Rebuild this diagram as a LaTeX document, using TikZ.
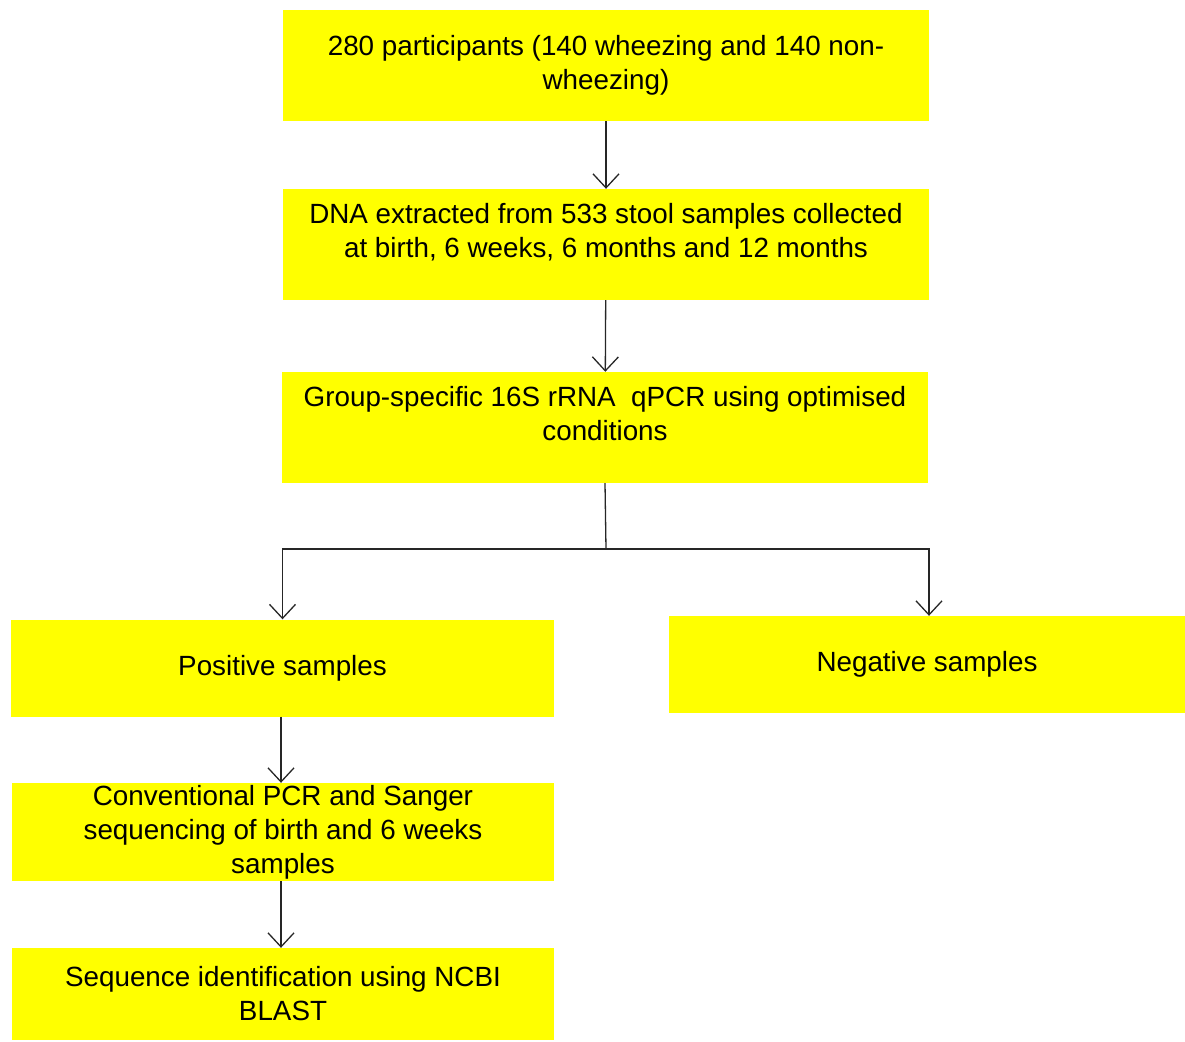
\documentclass[tikz,border=0pt]{standalone}
\usepackage{fontspec}
\setmainfont{Liberation Sans}
\usetikzlibrary{arrows.meta}
\definecolor{boxyellow}{RGB}{255,255,0}

\begin{document}
\begin{tikzpicture}[x=1pt, y=-1pt,
font=\fontsize{27.8}{34}\selectfont,
stage/.style={fill=boxyellow, draw=none, align=center, inner sep=0pt,
    minimum width=646pt, minimum height=111pt},
result/.style={stage, minimum width=543pt, minimum height=97pt},
flow/.style={draw=black!85, line width=1.3pt,
    -{Straight Barb[length=14pt,width=26pt,line width=1.3pt]}}]
\useasboundingbox (0,0) rectangle (1185,1041);
\node[stage] (cohort) at (606,65.5) {280 participants (140 wheezing and 140 non-\\wheezing)};
\node[stage, text depth=29pt] (dna) at (606,244.5) {DNA extracted from 533 stool samples collected\\at birth, 6 weeks, 6 months and 12 months};
\node[stage, text depth=29pt] (qpcr) at (605,427.5) {Group-specific 16S rRNA~ qPCR using optimised\\conditions};
\node[result] (pos) at (282.5,668) {Positive samples};
\node[result, minimum width=516pt] (neg) at (927,664.5) {Negative samples};
\node[result, minimum width=542pt, minimum height=98pt] (sanger) at (283,832) {Conventional PCR and Sanger\\sequencing of birth and 6 weeks\\samples};
\node[result, minimum width=542pt, minimum height=92pt] (blast) at (283,994) {Sequence identification using NCBI\\BLAST};
% connectors
\coordinate (split) at (606,549);
\draw[flow] (cohort) -- (dna);
\draw[flow] (dna) -- (qpcr);
\draw[draw=black!85, line width=1.3pt] (qpcr.south) -- (split);
\draw[flow] (split) -| (pos.north);
\draw[flow] (split) -| ([xshift=2pt]neg.north);
\draw[flow] ([xshift=-1.5pt]pos.south) -- ([xshift=-2pt]sanger.north);
\draw[flow] ([xshift=-2pt]sanger.south) -- ([xshift=-2pt]blast.north);
\end{tikzpicture}
\end{document}
